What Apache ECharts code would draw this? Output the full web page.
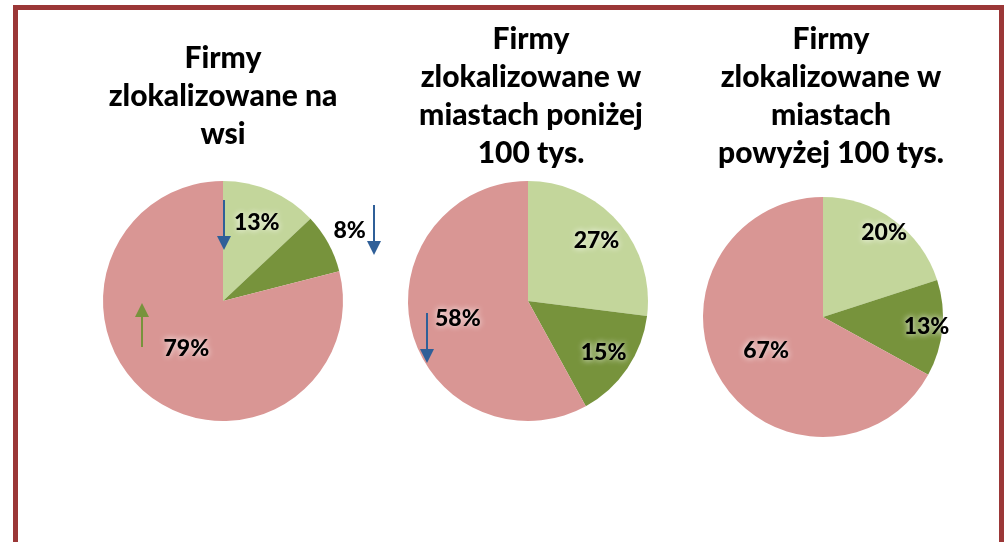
<!DOCTYPE html>
<html>
<head>
<meta charset="utf-8">
<script src="https://cdn.jsdelivr.net/npm/echarts@6/dist/echarts.min.js"></script>
<style>
  html, body { margin: 0; padding: 0; background: #fff; }
  #main { width: 1004px; height: 542px; }
</style>
</head>
<body>
<div id="main"></div>
<script>
// dane z wykresu
var segments = ['grupa 1', 'grupa 2', 'grupa 3'];
var chartTitles = [
    'Firmy\nzlokalizowane na\nwsi',
    'Firmy\nzlokalizowane w\nmiastach poniżej\n100 tys.',
    'Firmy\nzlokalizowane w\nmiastach\npowyżej 100 tys.'
];
var villageShares = [13, 8, 79];
var smallCityShares = [27, 15, 58];
var bigCityShares = [20, 13, 67];

var allShares = [villageShares, smallCityShares, bigCityShares];
var sliceColors = ['#c3d69b', '#77933c', '#d99694'];
var pieCenters = [[223, 301], [528, 301], [823, 317]];
var titleX = [218, 526, 826];
var titleTops = [34, 15, 15];
// odsunięcie etykiet od środka (małe wycinki / duży wycinek)
var labelReach = [1.35, 1.45, 1.65];
var bigReach = [0.95, 1.15, 1.05];

var myChart = echarts.init(document.getElementById('main'));

function buildData(values, pieIdx) {
    return values.map(function (v, i) {
        var item = { name: segments[i], value: v };
        // 8% na wsi - etykieta poza kołem
        if (pieIdx === 0 && i === 1) {
            item.label = { position: 'outside', distanceToLabelLine: 0 };
            item.labelLine = { show: false, length: 6, length2: 0 };
        }
        return item;
    });
}

var series = allShares.map(function (values, p) {
    return {
        type: 'pie',
        radius: 120,
        center: pieCenters[p],
        startAngle: 90,
        clockwise: true,
        silent: true,
        animation: false,
        z: 2,
        color: sliceColors,
        label: {
            show: true,
            position: 'inside',
            formatter: '{c}%',
            fontFamily: 'Lato',
            fontWeight: 900,
            fontSize: 23,
            color: '#000',
            textShadowColor: '#fff',
            textShadowBlur: 6
        },
        labelLine: { show: false },
        labelLayout: function (params) {
            if (p === 0 && params.dataIndex === 1) return { dy: -10 };
            var k = params.dataIndex === 2 ? bigReach[p] : labelReach[p];
            var r = params.labelRect;
            var lx = r.x + r.width / 2, ly = r.y + r.height / 2;
            var c = pieCenters[p];
            return {
                x: c[0] + (lx - c[0]) * k,
                y: c[1] + (ly - c[1]) * k,
                align: 'center',
                verticalAlign: 'middle'
            };
        },
        data: buildData(values, p)
    };
});

function arrow(x, yTail, yHead, color) {
    var dir = yHead > yTail ? 1 : -1;
    var base = yHead - dir * 14;
    return [
        { type: 'line', silent: true, z: 100,
          shape: { x1: x, y1: yTail, x2: x, y2: base },
          style: { stroke: color, lineWidth: 2 } },
        { type: 'polygon', silent: true, z: 100,
          shape: { points: [[x - 7, base], [x + 7, base], [x, yHead]] },
          style: { fill: color } }
    ];
}

var blue = '#2f5f98';
var green = '#77933c';
var graphics = [{
    type: 'rect', silent: true, z: 100,
    shape: { x: 15.5, y: 7.5, width: 986, height: 600 },
    style: { fill: 'none', stroke: '#9b3737', lineWidth: 5 }
}];
graphics = graphics
    .concat(arrow(224, 200, 250, blue))
    .concat(arrow(374, 205, 255, blue))
    .concat(arrow(142, 347, 303, green))
    .concat(arrow(427, 313, 363, blue));

option = {
    backgroundColor: '#fff',
    title: chartTitles.map(function (t, i) {
        return {
            text: t,
            left: titleX[i],
            top: titleTops[i],
            textAlign: 'center',
            textStyle: {
                fontFamily: 'Lato',
                fontWeight: 900,
                fontSize: 30,
                lineHeight: 38,
                color: '#000'
            }
        };
    }),
    series: series,
    graphic: { elements: graphics }
};

myChart.setOption(option);
</script>
</body>
</html>
